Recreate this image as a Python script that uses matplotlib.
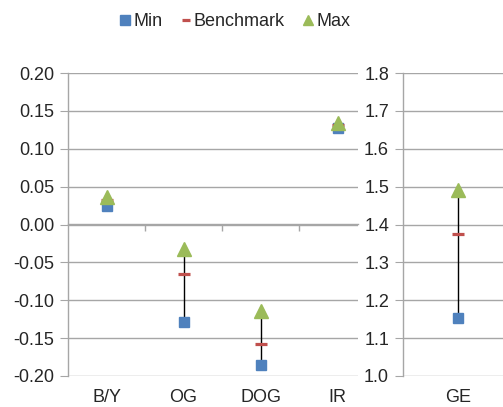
import matplotlib
matplotlib.use("Agg")
import matplotlib.pyplot as plt
from matplotlib.lines import Line2D

plt.rcParams['font.family'] = ['Liberation Sans', 'DejaVu Sans']

# Data
left_cats = ["B/Y", "OG", "DOG", "IR"]
left_min = [0.025, -0.129, -0.185, 0.128]
left_bench = [0.033, -0.065, -0.158, 0.131]
left_max = [0.036, -0.033, -0.114, 0.134]

right_cats = ["GE"]
right_min = [1.152]
right_bench = [1.374]
right_max = [1.490]

left_yticks = [-0.20, -0.15, -0.10, -0.05, 0.00, 0.05, 0.10, 0.15, 0.20]
right_yticks = [1.0, 1.1, 1.2, 1.3, 1.4, 1.5, 1.6, 1.7, 1.8]

BLUE = "#4F81BD"
RED = "#C0504D"
GREEN = "#9BBB59"
GRID = "#A6A6A6"
TXT = "#262626"

W, H = 503, 407
fig = plt.figure(figsize=(W / 100, H / 100), dpi=100)

def px_axes(x0, x1, ytop, ybot):
    return fig.add_axes([x0 / W, (H - ybot) / H, (x1 - x0) / W, (ybot - ytop) / H])

def draw(ax, cats, mins, bench, maxs):
    xs = list(range(len(cats)))
    ax.vlines(xs, mins, maxs, color="black", lw=1.0, zorder=3)
    ax.plot(xs, mins, ls="none", marker="s", ms=7.5, color=BLUE, zorder=4)
    ax.plot(xs, bench, ls="none", marker="_", ms=8, mew=2.3, color=RED, zorder=5)
    ax.plot(xs, maxs, ls="none", marker="^", ms=10, color=GREEN, zorder=6)
    ax.set_xticks(xs, cats)
    ax.tick_params(axis="x", length=0, pad=9, labelsize=13, labelcolor=TXT)
    ax.tick_params(axis="y", length=6, color=GRID, labelsize=13, labelcolor=TXT, pad=4)
    ax.grid(axis="y", color=GRID, lw=1.0)
    ax.set_axisbelow(True)
    for s in ["top", "right", "bottom"]:
        ax.spines[s].set_visible(False)
    ax.spines["left"].set_color(GRID)
    ax.spines["left"].set_linewidth(1.0)

# Left panel
ax1 = px_axes(68, 358, 73, 376)
draw(ax1, left_cats, left_min, left_bench, left_max)
ax1.set_ylim(-0.20, 0.20)
ax1.set_yticks(left_yticks, [f"{v:.2f}" for v in left_yticks])
ax1.set_xlim(-0.5, -0.5 + (358 - 68) / 77)
sec = ax1.secondary_xaxis(0.5)
sec.set_xticks([0.5, 1.5, 2.5], ["", "", ""])
sec.tick_params(length=5, color=GRID, width=1.0, direction="in")
for sp in sec.spines.values():
    sp.set_color(GRID)
    sp.set_linewidth(1.0)

# Right panel
ax2 = px_axes(403, 503, 73, 376)
draw(ax2, right_cats, right_min, right_bench, right_max)
ax2.set_ylim(1.0, 1.8)
ax2.set_yticks(right_yticks, [f"{v:.1f}" for v in right_yticks])
ax2.set_xlim(-0.5, -0.5 + 100 / 110)

# Legend
handles = [
    Line2D([], [], ls="none", marker="s", ms=6.5, color=BLUE),
    Line2D([], [], ls="none", marker="_", ms=6, mew=2.3, color=RED),
    Line2D([], [], ls="none", marker="^", ms=7.5, color=GREEN),
]
fig.legend(handles, ["Min", "Benchmark", "Max"], loc="center",
           bbox_to_anchor=(235 / W, 1 - 22 / H), ncol=3, frameon=False,
           fontsize=13, handlelength=0.6, handletextpad=0.15,
           columnspacing=1.0, labelcolor=TXT)

fig.savefig("out.png", dpi=100, facecolor="white")
